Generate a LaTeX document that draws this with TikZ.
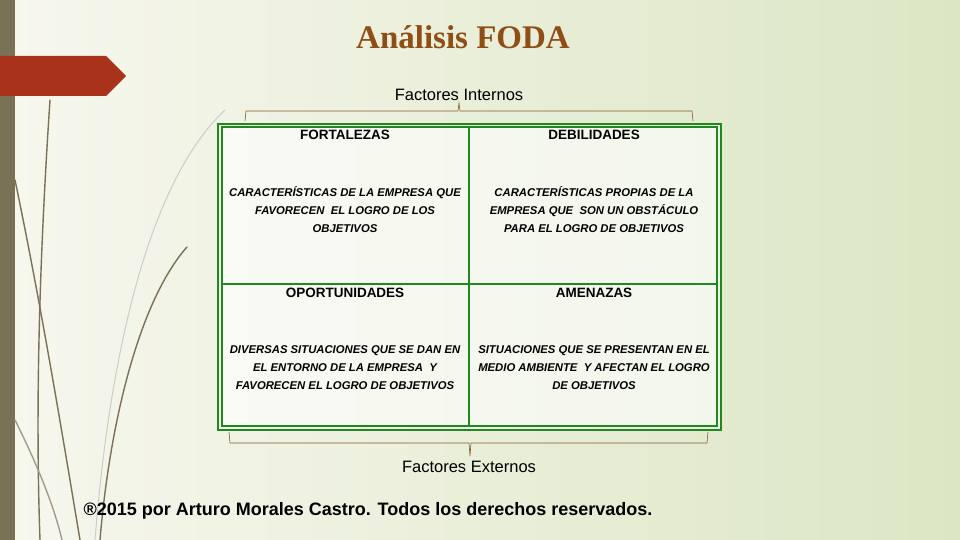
\documentclass[tikz,border=0pt]{standalone}
\usepackage{fontspec}
\setmainfont{Liberation Sans}
\newfontfamily\titlefont{Liberation Serif}
\begin{document}
\begin{tikzpicture}[x=1pt,y=-1pt,
  hdr/.style={font=\bfseries\fontsize{13.5}{15}\selectfont},
  body/.style={font=\bfseries\itshape\fontsize{11.3}{18}\selectfont,align=center},
  grass/.style={draw=#1,line width=1.4pt,line cap=round},
  brace/.style={draw=brown!70!black,line width=0.6pt}]
\definecolor{bgl}{HTML}{F7F7EE}\definecolor{bgr}{HTML}{DCE6C4}
\definecolor{barc}{HTML}{7A7156}\definecolor{redc}{HTML}{A8321A}
\definecolor{gr}{HTML}{1E8A1E}\definecolor{titc}{HTML}{8E4E16}
\shade[left color=bgl,right color=bgr] (0,0) rectangle (960,540);
\useasboundingbox (0,0) rectangle (960,540);
\fill[barc] (0,0) rectangle (15,540);
\fill[redc] (0,56) -- (106,56) -- (126,76) -- (106,96) -- (0,96) -- cycle;
\draw[grass=barc] (50,100) .. controls (40,250) and (35,400) .. (40,540);
\draw[grass=barc] (15,180) .. controls (40,300) and (60,420) .. (80,540);
\draw[grass=barc] (187,247) .. controls (140,300) and (110,420) .. (100,540);
\draw[grass=gray!40,line width=1pt] (225,110) .. controls (150,180) and (110,350) .. (95,540);
\draw[grass=barc!70] (15,420) .. controls (40,470) and (55,510) .. (62,540);
\node[font=\titlefont\bfseries\fontsize{33}{36}\selectfont,text=titc] (title) at (463,37) {Análisis FODA};
\node[font=\fontsize{16.5}{18}\selectfont] (fi) at (459,95) {Factores Internos};
\node[font=\fontsize{16.5}{18}\selectfont] (fe) at (469,467) {Factores Externos};
\draw[brace] (245,121) -- (246,111) -- (458,111) -- (459,103) -- (460,111) -- (692,111) -- (693,121);
\draw[brace] (229,432) -- (230,443) -- (469,443) -- (470,456) -- (471,443) -- (707,443) -- (708,432);
\fill[white,opacity=0.6] (218,123) rectangle (722,430);
\draw[gr,line width=2pt] (218,124) rectangle (721,430);
\draw[gr,line width=1.5pt] (222,127) rectangle (717,426);
\draw[gr,line width=1.5pt] (469,127) -- (469,426);
\draw[gr,line width=1.5pt] (222,284) -- (717,284);
\node[hdr] (h1) at (345,135) {FORTALEZAS};
\node[hdr] (h2) at (594,135) {DEBILIDADES};
\node[hdr] (h3) at (345,293) {OPORTUNIDADES};
\node[hdr] (h4) at (594,293) {AMENAZAS};
\node[body] (b1) at (345,210) {CARACTERÍSTICAS DE LA EMPRESA QUE\\FAVORECEN\ \ EL LOGRO DE LOS\\OBJETIVOS};
\node[body] (b2) at (594,210) {CARACTERÍSTICAS PROPIAS DE LA\\EMPRESA QUE\ \ SON UN OBSTÁCULO\\PARA EL LOGRO DE OBJETIVOS};
\node[body] (b3) at (345,368) {DIVERSAS SITUACIONES QUE SE DAN EN\\EL ENTORNO DE LA EMPRESA\ \ Y\\FAVORECEN EL LOGRO DE OBJETIVOS};
\node[body] (b4) at (594,368) {SITUACIONES QUE SE PRESENTAN EN EL\\MEDIO AMBIENTE\ \ Y AFECTAN EL LOGRO\\DE OBJETIVOS};
\node[font=\bfseries\fontsize{18}{20}\selectfont] (cp) at (368,511) {®2015 por Arturo Morales Castro. Todos los derechos reservados.};
\end{tikzpicture}
\end{document}
